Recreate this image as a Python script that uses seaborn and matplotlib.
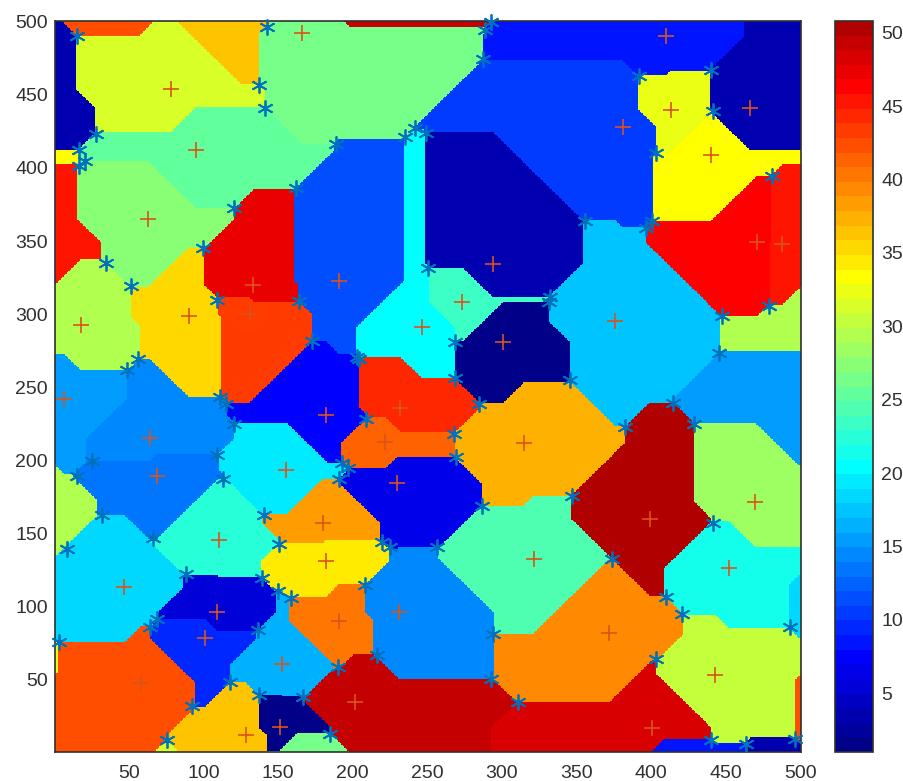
import numpy as np
import matplotlib
matplotlib.use("Agg")
import matplotlib.pyplot as plt
from matplotlib.colors import ListedColormap
import seaborn as sb

# the cells are nearest site regions (city block distance)
site_x = [78, 166, 95, 63, 133.5, 131, 191, 18, 90, 246.5,
          410, 466, 413.5, 381, 440.5, 471, 488, 294, 273.4, 376, 300.7,
          6.4, 64, 69, 182.4, 232, 222, 155.4, 230, 179.8, 110.3, 182, 47, 109, 231, 191,
          101, 152.7, 58, 201.4, 128.4, 151.4,
          314.7, 399, 470, 321.5, 452, 372, 443, 400.7]
site_y = [454, 492, 412, 365, 320, 300, 323, 292.5, 298.5, 291,
          490.4, 441, 439.7, 428, 409, 349, 348, 334.6, 308.4, 295.5, 281,
          241.8, 215.4, 189, 231.3, 236, 212.5, 193.3, 184.7, 157.4, 145.3, 131, 113.5, 96, 96, 90.3,
          78.4, 60.7, 47.7, 34.8, 11.8, 17.5,
          212, 160, 171.7, 132.6, 126.5, 81.6, 53.4, 17]
site_val = [31, 26, 25, 27, 47, 43, 11, 29, 35, 20,
            8, 3, 32, 10, 33, 46, 45, 3, 23, 17, 1,
            15, 14, 13, 7, 44, 41, 19, 6, 38, 22, 34, 18, 5, 14, 40,
            9, 16, 42, 49, 36, 1,
            37, 50, 28, 24, 21, 39, 30, 48]

# sites that fall outside the plotted square, only their cells show
out_x = [-35, 57, 125, 198, -16, -61, -27, 507, 517, 163, 75, 409, 467, 554, 544, -61, -50]
out_y = [441, 548, 508, 532, 349, 411, 173, 243, 295, -3, -47, -7, -57, 50, 115, 55, -50]
out_val = [3, 42, 36, 49, 45, 33, 29, 15, 29, 26, 31, 8, 3, 42, 18, 32, 3]

star_x = [15.4, 142.5, 137.3, 141, 28, 16.7, 20.7, 16.7, 188.7, 235, 241.6, 249, 161.7, 120.6,
          100, 34.6, 51.3, 109, 164, 173, 203, 204, 250.5, 56, 49,
          292.6, 288.6, 287.5, 391.6, 440.5, 441.6, 403, 481, 355.6, 400.7, 396.5,
          332.6, 331.5, 479, 447.8, 268.5, 445.7, 345.5, 268.5,
          111.4, 115.4, 120.6, 109, 113, 25, 15, 31.7, 66.4, 8.5, 88, 139.5, 150, 159,
          140.4, 150.6, 192.8, 196.8, 191, 209, 219.4, 225, 208.5, 69, 64, 136.5, 3,
          216, 190, 118, 137.3, 167, 92, 185, 75.7,
          285, 268, 269.6, 382.4, 414.8, 428.9, 346.7, 286.4, 256.7, 441.6, 373.5,
          409.7, 421, 493, 294, 403, 292.6, 310.7, 440.5, 463.5, 496.8]
star_y = [490.4, 496.6, 457, 441, 423, 412, 405, 401.5, 416.5, 421, 427, 424, 386, 372.6,
          345, 335, 319, 310, 309, 281.6, 271, 269, 331.6, 269, 262,
          499.5, 494.5, 474.5, 462.7, 467, 438.6, 410.4, 394.4, 364, 364, 359,
          312, 308.4, 305.7, 298.6, 281, 273.6, 255, 256.5,
          243.4, 238.4, 225, 203.6, 187.2, 199.5, 189, 162.6, 147, 139.6, 122, 119.4, 110.3, 105.7,
          162.6, 142.6, 198, 195, 187, 228.6, 144.4, 141, 115, 91.6, 86, 84, 75.7,
          67, 58.4, 48.4, 39.3, 38, 32.3, 13, 8.4,
          238.4, 218, 202.4, 222.5, 238.9, 225, 175.8, 168.8, 141, 157, 132.6,
          106.2, 94.8, 86, 81.4, 64, 50.7, 34.8, 8.4, 6, 9.7]

ticks = [50, 100, 150, 200, 250, 300, 350, 400, 450, 500]
cbar_ticks = [5, 10, 15, 20, 25, 30, 35, 40, 45, 50]


def matlab_jet(n):
    f = (np.arange(n) + 0.5) / (n + 2)
    r = np.clip(np.minimum(4 * f - 1.5, -4 * f + 4.5), 0, 1)
    g = np.clip(np.minimum(4 * f - 0.5, -4 * f + 3.5), 0, 1)
    b = np.clip(np.minimum(4 * f + 0.5, -4 * f + 2.5), 0, 1)
    return ListedColormap(np.column_stack([r, g, b]))


sb.set_theme(style="white")
plt.rcParams['font.family'] = ['Liberation Sans', 'DejaVu Sans']

all_x = np.array(site_x + out_x)
all_y = np.array(site_y + out_y)
all_val = np.array(site_val + out_val)

xs, ys = np.meshgrid(np.arange(1, 501), np.arange(1, 501))
dist = np.abs(xs[..., None] - all_x) + np.abs(ys[..., None] - all_y)
cells = all_val[dist.argmin(axis=2)]

W, H = 904, 781
fig = plt.figure(figsize=[W / 100, H / 100], dpi=100)
ax = fig.add_axes([55 / W, (H - 752) / H, 746 / W, 731 / H])
cax = fig.add_axes([835 / W, (H - 752) / H, 38 / W, 731 / H])

sb.heatmap(cells, cmap=matlab_jet(50), vmin=1, vmax=50.8, ax=ax, cbar_ax=cax,
           xticklabels=False, yticklabels=False, rasterized=True)
ax.invert_yaxis()

dark = '#303030'
ax.set_xticks([t - 0.5 for t in ticks])
ax.set_xticklabels(ticks)
ax.set_yticks([t - 0.5 for t in ticks])
ax.set_yticklabels(ticks, rotation=0)
ax.tick_params(direction='in', length=5, width=1.1, color=dark, labelcolor=dark,
               labelsize=14, top=True, right=True, bottom=True, left=True)
ax.tick_params(axis='x', pad=9)
ax.tick_params(axis='y', pad=5)
for s in ax.spines.values():
    s.set_visible(True)
    s.set_color(dark)
    s.set_linewidth(1.2)

ax.plot(np.array(site_x) - 0.5, np.array(site_y) - 0.5, linestyle='none', marker='+',
        markersize=12, markeredgewidth=1.2, color='#d9541a', clip_on=False, zorder=3)
ax.plot(np.array(star_x) - 0.5, np.array(star_y) - 0.5, linestyle='none', marker=(6, 2, 0),
        markersize=11.5, markeredgewidth=1.3, color='#0072bd', clip_on=False, zorder=4)

cb = ax.collections[0].colorbar
cb.set_ticks(cbar_ticks)
cb.set_ticklabels(cbar_ticks)
cb.outline.set_visible(True)
cb.outline.set_edgecolor(dark)
cb.outline.set_linewidth(1.2)
cax.tick_params(direction='in', length=7, width=1.1, color=dark, labelcolor=dark,
                labelsize=14, right=True, left=False, pad=6)

fig.savefig('out.png', dpi=100)
